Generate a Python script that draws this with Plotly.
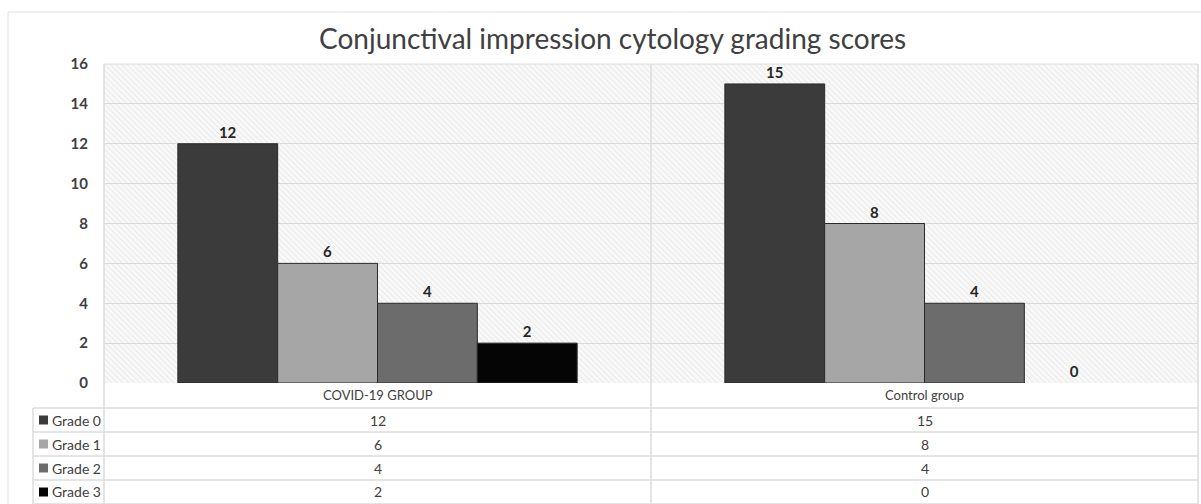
import plotly.graph_objects as go

# ---------------- data ----------------
categories = ["COVID-19 GROUP", "Control group"]
series_names = ["Grade 0", "Grade 1", "Grade 2", "Grade 3"]
grade0 = [12, 15]
grade1 = [6, 8]
grade2 = [4, 4]
grade3 = [2, 0]
series_values = [grade0, grade1, grade2, grade3]
y_ticks = [0, 2, 4, 6, 8, 10, 12, 14, 16]
chart_title = "Conjunctival impression cytology grading scores"

# ---------------- style ----------------
series_colors = ["#3b3b3b", "#a6a6a6", "#6c6c6c", "#050505"]
grid_color = "#dadada"
table_line = "#dcdcdc"
text_color = "#404040"
FONT = "Lato"

W, H = 1201, 504
L, R, T, B = 104, 1198, 64, 383  # plot area in pixels


def px(x):
    return (x - L) / (R - L)


def py(y):
    return (B - y) / (B - T)


fig = go.Figure()

# hatched plot background (on base axes)
fig.add_trace(go.Bar(
    x=[0], y=[max(y_ticks)], width=[1], base=0,
    xaxis="x", yaxis="y",
    marker=dict(color="rgba(0,0,0,0)", line=dict(width=0),
                pattern=dict(shape="\\", size=4, solidity=0.2,
                             fgcolor="#d2d2d2", fgopacity=0.6, fillmode="overlay")),
    hoverinfo="skip", showlegend=False,
))

for name, vals, col in zip(series_names, series_values, series_colors):
    fig.add_trace(go.Bar(
        x=categories, y=vals, name=name,
        xaxis="x2", yaxis="y2",
        marker=dict(color=col,
                    line=dict(color="#2a2a2a", width=[1 if v > 0 else 0 for v in vals])),
        text=[str(v) for v in vals], textposition="outside",
        textfont=dict(family=FONT, size=15, color="#262626", weight="bold"),
        cliponaxis=False, showlegend=False,
    ))

fig.update_layout(
    width=W, height=H,
    margin=dict(l=L, r=W - R, t=T, b=H - B),
    paper_bgcolor="white",
    plot_bgcolor="#f8f8f8",
    barmode="group", bargap=0.27, bargroupgap=0,
    font=dict(family=FONT, color=text_color),
    xaxis=dict(range=[-0.5, 0.5], visible=False, fixedrange=True),
    yaxis=dict(range=[0, max(y_ticks)], tickvals=y_ticks, showgrid=True,
               gridcolor=grid_color, gridwidth=1, zeroline=False, showline=False,
               ticks="", ticklabelstandoff=15,
               tickfont=dict(family=FONT, size=15, color=text_color, weight="bold")),
    xaxis2=dict(overlaying="x", type="category", range=[-0.5, 1.5], visible=False),
    yaxis2=dict(overlaying="y", range=[0, max(y_ticks)], visible=False),
)

shapes = []
# outer chart border
shapes.append(dict(type="rect", xref="paper", yref="paper",
                   x0=px(8), x1=px(1215), y0=py(520), y1=py(12),
                   line=dict(color="#e2e2e2", width=1), layer="below"))
# plot area top border
shapes.append(dict(type="line", xref="paper", yref="paper", x0=px(L), x1=px(R),
                   y0=py(T), y1=py(T), line=dict(color=table_line, width=1)))
# category divider through plot + table
shapes.append(dict(type="line", xref="paper", yref="paper", x0=0.5, x1=0.5,
                   y0=py(T), y1=py(504), line=dict(color=table_line, width=1.5)))
# left plot edge down through table
shapes.append(dict(type="line", xref="paper", yref="paper", x0=px(L), x1=px(L),
                   y0=py(T), y1=py(504), line=dict(color=table_line, width=1.5)))
# right edge
shapes.append(dict(type="line", xref="paper", yref="paper", x0=px(R), x1=px(R),
                   y0=py(T), y1=py(504), line=dict(color=table_line, width=1.5)))
# legend column left edge
shapes.append(dict(type="line", xref="paper", yref="paper", x0=px(33), x1=px(33),
                   y0=py(408), y1=py(504), line=dict(color=table_line, width=1.5)))

row_top = 408
row_h = 24
# table horizontal lines
for i in range(len(series_names) + 1):
    yy = row_top + i * row_h
    shapes.append(dict(type="line", xref="paper", yref="paper", x0=px(33), x1=px(R),
                       y0=py(yy), y1=py(yy), line=dict(color=table_line, width=1.5)))

annotations = []
# title
annotations.append(dict(text=chart_title, xref="paper", yref="paper",
                        x=px(612), y=py(38), xanchor="center", yanchor="middle",
                        showarrow=False,
                        font=dict(family=FONT, size=28, color=text_color)))
# category labels
for c in categories:
    annotations.append(dict(text=c, xref="x2", yref="paper", x=c, y=py(395),
                            xanchor="center", yanchor="middle", showarrow=False,
                            font=dict(family=FONT, size=13, color=text_color)))
# table rows
for i, (name, vals, col) in enumerate(zip(series_names, series_values, series_colors)):
    yc = row_top + i * row_h + row_h / 2
    shapes.append(dict(type="rect", xref="paper", yref="paper",
                       x0=px(39), x1=px(48), y0=py(yc + 4.5), y1=py(yc - 4.5),
                       fillcolor=col, line=dict(width=0)))
    annotations.append(dict(text=name, xref="paper", yref="paper", x=px(50), y=py(yc),
                            xanchor="left", yanchor="middle", showarrow=False,
                            font=dict(family=FONT, size=14, color=text_color)))
    for c, v in zip(categories, vals):
        annotations.append(dict(text=str(v), xref="x2", yref="paper", x=c, y=py(yc),
                                xanchor="center", yanchor="middle", showarrow=False,
                                font=dict(family=FONT, size=14, color=text_color)))

fig.update_layout(shapes=shapes, annotations=annotations)
fig.write_html(
    "out.html",
    config={"displayModeBar": False},
    post_script="document.body.style.margin='0';document.body.style.overflow='hidden';",
)
